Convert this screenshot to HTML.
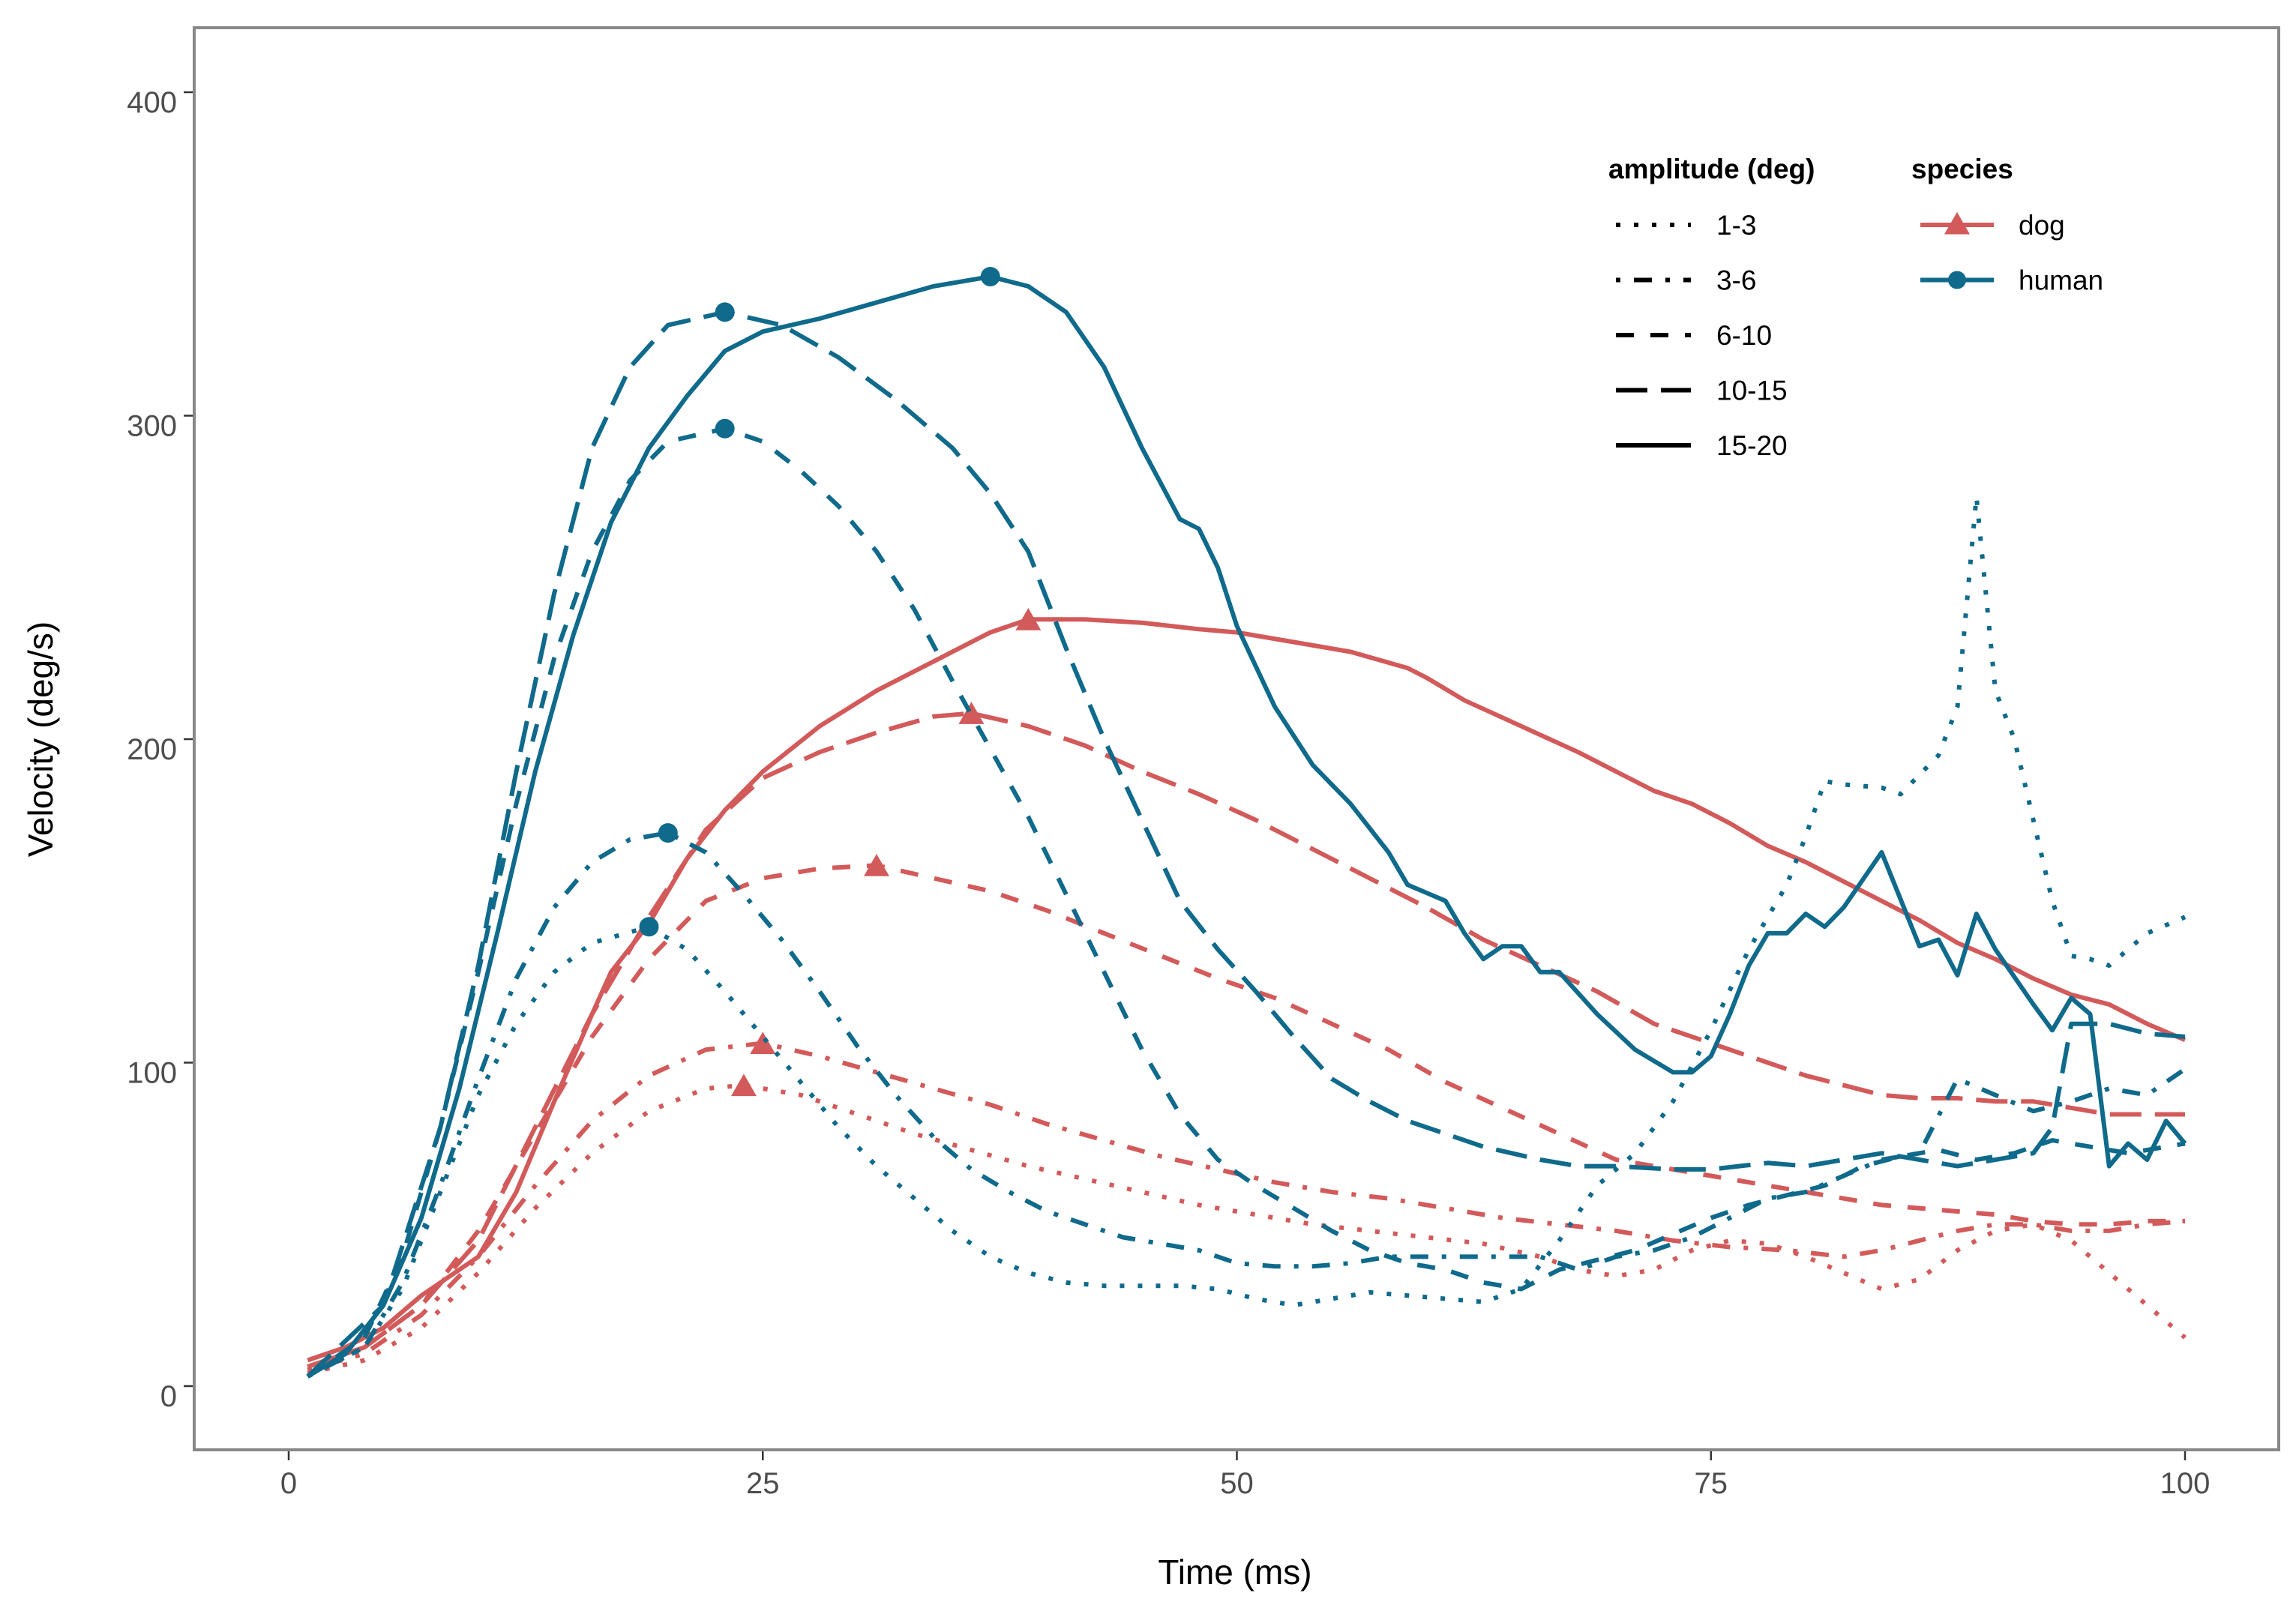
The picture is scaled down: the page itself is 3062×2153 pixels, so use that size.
<!DOCTYPE html>
<html><head><meta charset="utf-8"><style>
html,body{margin:0;padding:0;background:#fff;}
svg{display:block;font-family:"Liberation Sans",Arial,sans-serif;}
</style></head><body>
<svg id="chart" width="3062" height="2153" viewBox="0 0 3062 2153" xmlns="http://www.w3.org/2000/svg">
<rect x="0" y="0" width="3062" height="2153" fill="#fff"/>
<g id="marks"></g>
<g id="axes"></g>
<rect x="259" y="37" width="2780" height="1897" fill="none" stroke="#888" stroke-width="4"/>
<text x="1647" y="2113" font-size="46" text-anchor="middle" fill="#000">Time (ms)</text>
<text x="0" y="0" font-size="46" text-anchor="middle" fill="#000" transform="translate(70,986) rotate(-90)">Velocity (deg/s)</text>
<g>
<text x="2145" y="238" font-size="37" font-weight="bold" fill="#000">amplitude (deg)</text>
<text x="2549" y="238" font-size="37" font-weight="bold" fill="#000">species</text>
<g id="legend-items"></g>
</g>
</svg>
<script>
const xTicks = [0, 25, 50, 75, 100];
const yTicks = [0, 100, 200, 300, 400];
const amplitudes = ["1-3", "3-6", "6-10", "10-15", "15-20"];
const speciesNames = ["dog", "human"];

const dogT_1_3 = [1,4,7,10,13,16,19,22,24,27,30,33,36,39,42,45,48,51,54,57,60,63,66,68,70,72,74,76,78,80,82,84,86,88,90,92,94,96,98,100];
const dogV_1_3 = [4,8,18,35,55,72,85,92,93,90,84,78,73,68,64,60,56,53,50,48,46,44,40,36,34,36,42,45,44,40,35,30,33,42,48,50,45,35,25,15];
const dogT_3_6 = [1,4,7,10,13,16,19,22,25,28,31,34,37,40,43,46,49,52,55,58,61,64,67,70,73,76,79,82,84,86,88,90,92,94,96,98,100];
const dogV_3_6 = [5,10,22,40,62,82,96,104,106,102,97,92,87,81,76,71,67,63,60,58,55,52,50,48,45,43,42,40,42,45,48,50,50,48,48,50,51];
const dogT_6_10 = [1,4,7,10,13,16,19,22,25,28,31,34,37,40,43,46,49,52,55,58,61,64,67,70,73,76,78,80,82,84,86,88,90,92,94,96,98,100];
const dogV_6_10 = [6,12,25,48,78,108,132,150,157,160,161,157,153,147,140,133,126,120,112,104,94,86,78,70,67,64,62,60,58,56,55,54,53,51,50,50,51,51];
const dogT_10_15 = [1,4,7,10,13,16,19,22,25,28,31,34,36,39,42,45,48,51,54,57,60,63,66,69,72,75,78,80,82,84,86,88,90,92,94,96,98,100];
const dogV_10_15 = [6,12,25,45,80,115,145,172,188,196,202,207,208,204,198,190,183,175,166,157,148,138,130,122,112,106,100,96,93,90,89,89,88,88,86,84,84,84];
const dogT_15_20 = [1,3,5,7,10,12,14,16,17,19,21,23,25,28,31,34,37,39,42,45,48,50,53,56,59,60,62,65,68,70,72,74,76,78,80,82,84,86,88,90,92,94,96,98,100];
const dogV_15_20 = [8,12,18,28,40,60,88,115,128,143,163,178,190,204,215,224,233,237,237,236,234,233,230,227,222,219,212,204,196,190,184,180,174,167,162,156,150,144,137,132,126,121,118,112,107];

const humT_1_3 = [1,4,6,8,10,12,14,16,19,21,23,25,27,29,31,33,35,37,39,41,43,45,47,49,51,53,55,57,59,61,63,65,67,69,71,73,75,77,79,80,81,82,84,85,87,88,89,90,91,92,93,94,95,96,98,100];
const humV_1_3 = [3,12,30,60,90,112,128,137,142,135,122,108,94,80,68,58,48,40,35,32,31,31,31,30,27,25,27,29,28,27,26,30,45,62,72,88,110,135,155,170,187,186,185,183,195,210,275,215,200,175,150,133,132,130,140,145];
const humT_3_6 = [1,4,6,8,10,12,14,16,18,20,22,24,26,28,30,32,34,36,38,40,42,44,46,48,50,52,54,56,58,60,62,64,66,68,70,72,74,76,78,80,82,84,86,88,90,92,94,96,98,100];
const humV_3_6 = [3,12,32,62,95,126,148,162,169,171,165,152,138,122,105,90,77,67,60,54,50,46,44,42,38,37,37,38,40,40,40,40,40,36,40,42,46,52,58,60,65,70,72,95,90,85,88,92,90,98];
const humT_6_10 = [1,4,6,8,10,12,14,16,18,20,23,25,27,29,31,33,35,37,39,41,43,45,47,49,51,53,55,57,59,61,63,65,67,69,71,73,75,77,79,81,83,85,87,89,91,93,95,97,100];
const humV_6_10 = [3,15,40,80,128,180,225,258,280,292,296,292,283,272,258,240,218,197,176,152,128,104,84,70,62,55,48,42,38,36,32,30,36,39,42,47,52,56,59,62,68,71,73,70,72,76,74,72,75];
const humT_10_15 = [1,5,8,10,12,14,16,18,20,23,26,29,32,35,37,39,41,43,45,47,49,51,53,55,57,59,61,63,66,68,70,73,75,78,80,82,84,86,88,90,92,93,94,96,98,100];
const humV_10_15 = [3,25,80,130,190,245,290,315,328,332,328,318,305,290,276,258,228,200,175,150,135,122,108,95,88,82,78,74,70,68,68,67,67,69,68,70,72,70,68,70,72,80,112,112,109,108];
const humT_15_20 = [1,3,5,7,9,11,13,15,17,19,21,23,25,28,31,34,37,39,41,43,45,47,48,49,50,52,54,56,58,59,61,62,63,64,65,66,67,69,71,73,74,75,76,77,78,79,80,81,82,84,86,87,88,89,90,92,93,94,95,96,97,98,99,100];
const humV_15_20 = [3,10,25,52,92,140,190,232,267,290,306,320,326,330,335,340,343,340,332,315,290,268,265,253,235,210,192,180,165,155,150,140,132,136,136,128,128,115,104,97,97,102,115,130,140,140,146,142,148,165,136,138,127,146,135,118,110,120,115,68,75,70,82,75];

const dogSeries = [[dogT_1_3,dogV_1_3],[dogT_3_6,dogV_3_6],[dogT_6_10,dogV_6_10],[dogT_10_15,dogV_10_15],[dogT_15_20,dogV_15_20]];
const humSeries = [[humT_1_3,humV_1_3],[humT_3_6,humV_3_6],[humT_6_10,humV_6_10],[humT_10_15,humV_10_15],[humT_15_20,humV_15_20]];

const NS = "http://www.w3.org/2000/svg";
const X0 = 385, XS = 25.29, Y0 = 1849, YS = 4.315;
function xScale(t){ return X0 + XS * t; }
function yScale(v){ return Y0 - YS * v; }
const dashes = ["6 18", "6 18 24 18", "24 22", "42 18", ""];
const colors = {dog:"#d35a5a", human:"#0f6a8b"};

const axes = document.getElementById("axes");
xTicks.forEach(function(t){
  const l = document.createElementNS(NS,"line");
  
  
  l.setAttribute("x1", xScale(t)); l.setAttribute("x2", xScale(t));
  l.setAttribute("y1", 1936); l.setAttribute("y2", 1948);
  l.setAttribute("stroke", "#333"); l.setAttribute("stroke-width", 2.5);
  axes.appendChild(l);
  const tx = document.createElementNS(NS,"text");
  
  
  tx.setAttribute("x", xScale(t)); tx.setAttribute("y", 1992);
  tx.setAttribute("font-size", 40); tx.setAttribute("text-anchor", "middle"); tx.setAttribute("fill", "#4d4d4d");
  tx.textContent = t;
  axes.appendChild(tx);
});
yTicks.forEach(function(v){
  const l = document.createElementNS(NS,"line");
  
  
  l.setAttribute("x1", 245); l.setAttribute("x2", 257);
  l.setAttribute("y1", yScale(v)); l.setAttribute("y2", yScale(v));
  l.setAttribute("stroke", "#333"); l.setAttribute("stroke-width", 2.5);
  axes.appendChild(l);
  const tx = document.createElementNS(NS,"text");
  
  
  tx.setAttribute("x", 236); tx.setAttribute("y", yScale(v) + 27);
  tx.setAttribute("font-size", 40); tx.setAttribute("text-anchor", "end"); tx.setAttribute("fill", "#4d4d4d");
  tx.textContent = v;
  axes.appendChild(tx);
});

const marks = document.getElementById("marks");
function triangle(cx, cy, s){
  return (cx - s) + "," + (cy + s*0.85) + " " + (cx + s) + "," + (cy + s*0.85) + " " + cx + "," + (cy - s*0.9);
}
function drawSeries(sp, idx, T, V){
  let d = "";
  for (let i = 0; i < T.length; i++) d += (i ? "L" : "M") + xScale(T[i]).toFixed(1) + "," + yScale(V[i]).toFixed(1);
  const p = document.createElementNS(NS,"path");
  
  
  p.setAttribute("d", d); p.setAttribute("fill", "none");
  p.setAttribute("stroke", colors[sp]); p.setAttribute("stroke-width", 6);
  p.setAttribute("stroke-linejoin", "round");
  if (dashes[idx]) p.setAttribute("stroke-dasharray", dashes[idx]);
  marks.appendChild(p);
  let m = 0;
  for (let i = 1; i < V.length; i++) if (V[i] > V[m]) m = i;
  if (sp === "human" && idx === 0) { m = 0; for (let i = 1; i < 20; i++) if (V[i] > V[m]) m = i; }
  const cx = xScale(T[m]), cy = yScale(V[m]);
  let mk;
  if (sp === "dog") {
    mk = document.createElementNS(NS,"polygon");
    mk.setAttribute("points", triangle(cx, cy, 17));
  } else {
    mk = document.createElementNS(NS,"circle");
    mk.setAttribute("cx", cx); mk.setAttribute("cy", cy); mk.setAttribute("r", 13);
  }
  
  
  mk.setAttribute("fill", colors[sp]);
  marks.appendChild(mk);
}
dogSeries.forEach(function(s, i){ drawSeries("dog", i, s[0], s[1]); });
humSeries.forEach(function(s, i){ drawSeries("human", i, s[0], s[1]); });

const li = document.getElementById("legend-items");
amplitudes.forEach(function(a, i){
  const y = 300 + i * 73.5;
  const l = document.createElementNS(NS,"line");
  
  
  l.setAttribute("x1", 2155); l.setAttribute("x2", 2255); l.setAttribute("y1", y); l.setAttribute("y2", y);
  l.setAttribute("stroke", "#000"); l.setAttribute("stroke-width", 6);
  if (dashes[i]) l.setAttribute("stroke-dasharray", dashes[i]);
  li.appendChild(l);
  const t = document.createElementNS(NS,"text");
  
  
  t.setAttribute("x", 2289); t.setAttribute("y", y + 13);
  t.setAttribute("font-size", 37); t.setAttribute("fill", "#000");
  t.textContent = a;
  li.appendChild(t);
});
speciesNames.forEach(function(s, i){
  const y = 300 + i * 73.5;
  const l = document.createElementNS(NS,"line");
  
  
  l.setAttribute("x1", 2561); l.setAttribute("x2", 2659); l.setAttribute("y1", y); l.setAttribute("y2", y);
  l.setAttribute("stroke", colors[s]); l.setAttribute("stroke-width", 6);
  li.appendChild(l);
  let mk;
  if (s === "dog") { mk = document.createElementNS(NS,"polygon"); mk.setAttribute("points", triangle(2610, y - 2, 17)); }
  else { mk = document.createElementNS(NS,"circle"); mk.setAttribute("cx", 2610); mk.setAttribute("cy", y); mk.setAttribute("r", 12); }
  
  
  mk.setAttribute("fill", colors[s]);
  li.appendChild(mk);
  const t = document.createElementNS(NS,"text");
  
  
  t.setAttribute("x", 2692); t.setAttribute("y", y + 13);
  t.setAttribute("font-size", 37); t.setAttribute("fill", "#000");
  t.textContent = s;
  li.appendChild(t);
});
</script>
</body></html>
